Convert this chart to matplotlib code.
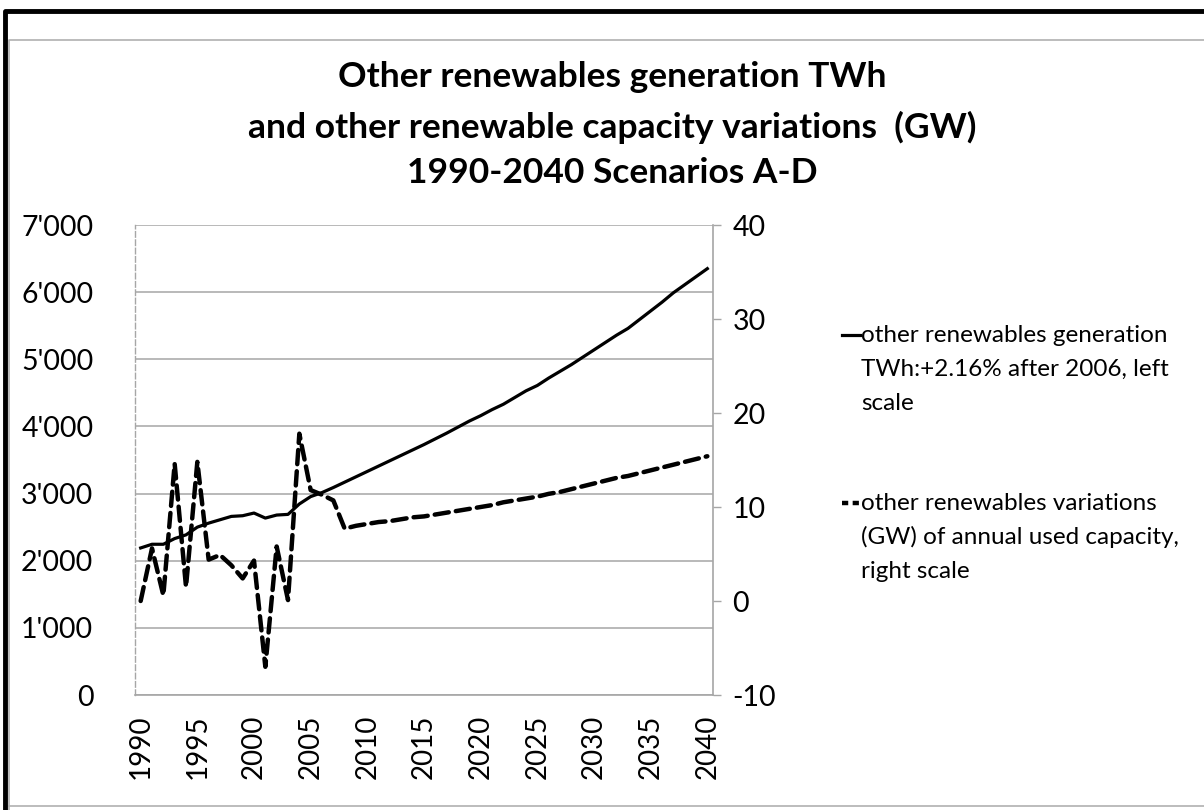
import numpy as np
import matplotlib
matplotlib.use("Agg")
import matplotlib.pyplot as plt
from matplotlib.lines import Line2D
from matplotlib.ticker import FuncFormatter

plt.rcParams['font.family'] = ['Lato', 'DejaVu Sans']
plt.rcParams['axes.unicode_minus'] = False

# data
years = list(range(1990, 2041))
generation_twh = [2190, 2245, 2245, 2330, 2385, 2500, 2560, 2610, 2660, 2670,
                  2710, 2635, 2680, 2690, 2845, 2955, 3015, 3090, 3170, 3250,
                  3330, 3410, 3490, 3570, 3650, 3730, 3815, 3900, 3990, 4080,
                  4160, 4250, 4330, 4430, 4530, 4610, 4720, 4820, 4920, 5030,
                  5140, 5250, 5360, 5460, 5590, 5720, 5850, 5990, 6110, 6230,
                  6350]
capacity_var_gw = [0.0, 5.6, 0.6, 14.6, 1.5, 14.8, 4.4, 4.9, 3.8, 2.4,
                   4.3, -7.0, 5.8, 0.1, 17.8, 11.8, 11.3, 10.7, 7.7, 8.0,
                   8.2, 8.4, 8.5, 8.7, 8.9, 9.0, 9.2, 9.4, 9.6, 9.8,
                   10.0, 10.2, 10.5, 10.7, 10.9, 11.1, 11.4, 11.6, 11.9, 12.2,
                   12.5, 12.8, 13.1, 13.3, 13.6, 13.9, 14.2, 14.5, 14.8, 15.1,
                   15.4]
title_lines = ["Other renewables generation TWh",
               "and other renewable capacity variations  (GW)",
               "1990-2040 Scenarios A-D"]
legend_gen = ["other renewables generation", "TWh:+2.16% after 2006, left", "scale"]
legend_cap = ["other renewables variations", "(GW) of annual used capacity,", "right scale"]

W, H = 1204, 810
fig = plt.figure(figsize=(W / 100, H / 100), dpi=100)

def fx(px):
    return px / W

def fy(py):
    return 1 - py / H

# frame around the chart (cropped screenshot look)
fig.add_artist(Line2D([fx(5), fx(5), fx(1204)], [fy(810), fy(11), fy(11)],
                      color='black', lw=3.5, solid_capstyle='butt'))
fig.add_artist(Line2D([fx(9), fx(9), fx(1204)], [fy(810), fy(40), fy(40)],
                      color='#b0b0b0', lw=1.2))
fig.add_artist(Line2D([fx(9), fx(1204)], [fy(806), fy(806)], color='#b0b0b0', lw=1.2))

ax = fig.add_axes([fx(135), fy(695), fx(713) - fx(135), fy(225) - fy(695)])
ax2 = ax.twinx()

ax.plot(years, generation_twh, color='black', lw=2.3, zorder=3)
ax2.plot(years, capacity_var_gw, color='black', lw=3.2, dashes=(3.2, 1.6),
         dash_capstyle='round', zorder=3)

ax.set_xlim(1989.5, 2040.5)
ax.set_ylim(0, 7000)
ax.set_yticks(np.arange(0, 7001, 1000))
ax.yaxis.set_major_formatter(FuncFormatter(
    lambda v, p: "0" if v == 0 else f"{int(v) // 1000}'{int(v) % 1000:03d}"))
ax.yaxis.grid(True, color='#a6a6a6', lw=1.1)
ax.set_axisbelow(True)
ax.set_xticks(range(1990, 2041, 5))
ax.tick_params(axis='x', length=0, pad=14, labelsize=20, labelrotation=90)
ax.tick_params(axis='y', length=0, pad=30, labelsize=20.5)

ax2.set_ylim(-10, 40)
ax2.set_yticks(range(-10, 41, 10))
ax2.tick_params(axis='y', length=6, width=1, color='#a6a6a6', pad=8, labelsize=20.5)

for a in (ax, ax2):
    for s in a.spines.values():
        s.set_visible(False)
ax.spines['left'].set_visible(True)
ax.spines['left'].set_color('#a6a6a6')
ax.spines['left'].set_linestyle((0, (4, 2)))
ax.spines['left'].set_linewidth(1)
ax.spines['bottom'].set_visible(True)
ax.spines['bottom'].set_color('#a6a6a6')
ax.spines['bottom'].set_linewidth(1.2)
ax2.spines['right'].set_visible(True)
ax2.spines['right'].set_color('#a6a6a6')
ax2.spines['right'].set_linewidth(1.2)

for yy, line in zip([77, 127, 173], title_lines):
    fig.text(fx(612), fy(yy), line, ha='center', va='center', fontsize=25.5,
             fontweight='bold')

# legend drawn by hand to the right of the plot
fig.add_artist(Line2D([fx(842), fx(860)], [fy(335), fy(335)], color='black', lw=2.3))
fig.add_artist(Line2D([fx(842), fx(862)], [fy(503), fy(503)], color='black', lw=3.2,
                      dashes=(1.4, 1.0)))
for i, line in enumerate(legend_gen):
    fig.text(fx(861), fy(335 + 34 * i), line, ha='left', va='center', fontsize=17.5)
for i, line in enumerate(legend_cap):
    fig.text(fx(861), fy(503 + 34 * i), line, ha='left', va='center', fontsize=17.5)

fig.savefig("out.png", dpi=100)
